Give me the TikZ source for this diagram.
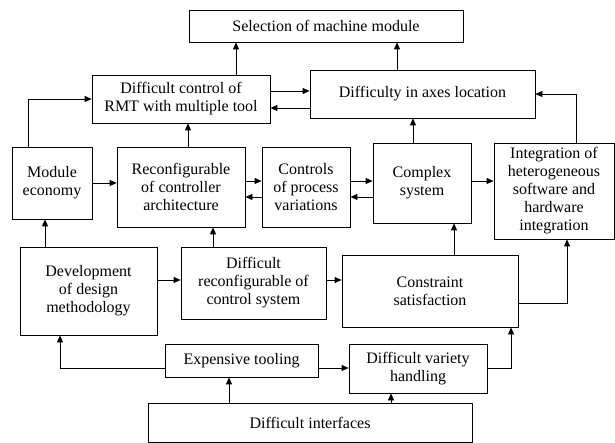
\documentclass[tikz,border=0pt]{standalone}
\usepackage{fontspec}
\setmainfont{Liberation Serif}
\usetikzlibrary{arrows.meta}
\begin{document}
\begin{tikzpicture}[x=1pt, y=-1pt, font=\fontsize{16}{18}\selectfont,
    box/.style={draw, line width=0.8pt, align=center, inner sep=0pt},
    link/.style={-{Triangle[length=7pt,width=6pt]}, line width=0.8pt}]
  \useasboundingbox (0,0) rectangle (615,443);
  \node[box, minimum width=274pt, minimum height=32pt] (sel) at (326,26) {Selection of machine module};
  \node[box, minimum width=178pt, minimum height=48pt] (rmt) at (181,99) {Difficult control of\\RMT with multiple tool};
  \node[box, minimum width=225pt, minimum height=48pt] (axes) at (422.5,94) {Difficulty in axes location};
  \node[box, minimum width=80pt, minimum height=72pt] (mod) at (52,183) {Module\\economy};
  \node[box, minimum width=128pt, minimum height=80pt] (rec) at (181,187) {Reconfigurable\\of controller\\architecture};
  \node[box, minimum width=88pt, minimum height=80pt] (ctl) at (306,187) {Controls\\of process\\variations};
  \node[box, minimum width=98pt, minimum height=80pt] (cpx) at (422,183) {Complex\\system};
  \node[box, minimum width=120pt, minimum height=96pt] (integ) at (554,191) {Integration of\\heterogeneous\\software and\\hardware\\integration};
  \node[box, minimum width=137pt, minimum height=88pt] (dev) at (88.5,291) {Development\\of design\\methodology};
  \node[box, minimum width=145pt, minimum height=72pt] (drc) at (253.5,283) {Difficult\\reconfigurable of\\control system};
  \node[box, minimum width=176pt, minimum height=72pt] (cst) at (430,291) {Constraint\\satisfaction};
  \node[box, minimum width=153pt, minimum height=33pt] (exp) at (241.5,360.5) {Expensive tooling};
  \node[box, minimum width=138pt, minimum height=49pt] (var) at (418,368.5) {Difficult variety\\handling};
  \node[box, minimum width=324pt, minimum height=39pt] (itf) at (310,422.5) {Difficult interfaces};

  \draw[link] ([xshift=55pt]rmt.north) -- ([xshift=55pt]rmt.north |- sel.south);
  \draw[link] ([xshift=-25.5pt]axes.north) -- ([xshift=-25.5pt]axes.north |- sel.south);
  \draw[link] ([yshift=8pt]rmt.east) -- ([yshift=8pt]rmt.east -| axes.west);
  \draw[link] ([yshift=-9pt]rmt.east -| axes.west) -- ([yshift=-9pt]rmt.east);
  \draw[link] ([xshift=-24pt]mod.north) |- (rmt.west);
  \draw[link] (mod.east) -- (mod.east -| rec.west);
  \draw[link] ([xshift=7pt]rec.north) -- ([xshift=7pt]rec.north |- rmt.south);
  \draw[link] ([yshift=6pt]rec.east) -- ([yshift=6pt]rec.east -| ctl.west);
  \draw[link] ([yshift=-10pt]ctl.west) -- ([yshift=-10pt]ctl.west -| rec.east);
  \draw[link] ([yshift=6pt]ctl.east) -- ([yshift=6pt]ctl.east -| cpx.west);
  \draw[link] ([yshift=-10pt]ctl.east -| cpx.west) -- ([yshift=-10pt]ctl.east);
  \draw[link] ([yshift=2pt]cpx.east) -- ([yshift=2pt]cpx.east -| integ.west);
  \draw[link] ([xshift=-9pt]cpx.north) -- ([xshift=-9pt]cpx.north |- axes.south);
  \draw[link] ([xshift=22pt]integ.north) |- (axes.east);
  \draw[link] ([xshift=-43.5pt]dev.north) -- ([xshift=-43.5pt]dev.north |- mod.south);
  \draw[link] ([yshift=11pt]dev.east) -- ([yshift=11pt]dev.east -| drc.west);
  \draw[link] ([xshift=-40.5pt]drc.north) -- ([xshift=-40.5pt]drc.north |- rec.south);
  \draw[link] ([yshift=3pt]drc.east) -- ([yshift=3pt]drc.east -| cst.west);
  \draw[link] ([xshift=24pt]cst.north) -- ([xshift=24pt]cst.north |- cpx.south);
  \draw[link] ([yshift=-12pt]cst.east) -| ([xshift=13pt]integ.south);
  \draw[link] ([yshift=-7.5pt]exp.west) -| ([xshift=-28.5pt]dev.south);
  \draw[link] ([yshift=-7.5pt]exp.east) -- ([yshift=-7.5pt]exp.east -| var.west);
  \draw[link] (var.east) -| ([xshift=81pt]cst.south);
  \draw[link] ([xshift=-81pt]itf.north) -- ([xshift=-81pt]itf.north |- exp.south);
  \draw[link] ([xshift=81pt]itf.north) -- ([xshift=81pt]itf.north |- var.south);
\end{tikzpicture}
\end{document}
